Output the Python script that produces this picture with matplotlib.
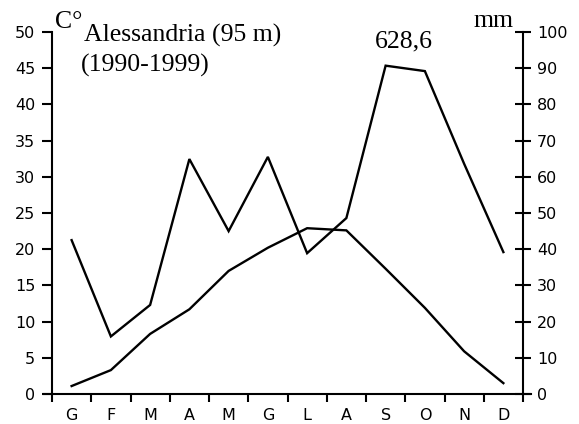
import matplotlib
matplotlib.use("Agg")
import matplotlib.pyplot as plt
from matplotlib.lines import Line2D
import numpy as np

months = ["G", "F", "M", "A", "M", "G", "L", "A", "S", "O", "N", "D"]
temperature = [1.1, 3.3, 8.3, 11.7, 17.0, 20.2, 22.9, 22.6, 17.3, 11.9, 5.9, 1.5]
precipitation = [42.5, 15.9, 24.6, 64.9, 45.0, 65.5, 38.9, 48.6, 90.7, 89.2, 63.6, 39.2]
left_ticks = [0, 5, 10, 15, 20, 25, 30, 35, 40, 45, 50]
right_ticks = [0, 10, 20, 30, 40, 50, 60, 70, 80, 90, 100]
station = "Alessandria (95 m)"
period = "(1990-1999)"
total = "628,6"

W, H = 579, 424
fig = plt.figure(figsize=(W / 100, H / 100), dpi=100)
ax = fig.add_axes([52 / W, 30 / H, 471 / W, 362 / H])
ax2 = ax.twinx()

x = np.arange(len(months)) + 0.5
ax.plot(x, temperature, color="black", lw=1.7, solid_joinstyle="miter")
ax2.plot(x, precipitation, color="black", lw=1.7, solid_joinstyle="miter")

ax.set_xlim(0, 12)
ax.set_ylim(0, 50)
ax2.set_ylim(0, 100)

sans = "DejaVu Sans"
serif = "Liberation Serif"
tfs = 11.5

ax.set_yticks(left_ticks)
ax.set_yticklabels([str(v) for v in left_ticks], fontfamily=sans, fontsize=tfs)
ax2.set_yticks(right_ticks)
ax2.set_yticklabels([str(v) for v in right_ticks], fontfamily=sans, fontsize=tfs)

ax.set_xticks(np.arange(0, 13), minor=True)
ax.set_xticks(x)
ax.set_xticklabels(months, fontfamily=sans, fontsize=tfs)
ax.tick_params(axis="x", which="major", length=0, pad=10)
ax.tick_params(axis="x", which="minor", direction="out", length=6, width=1.5)
ax.tick_params(axis="y", direction="out", length=7, width=1.5, pad=5)
ax2.tick_params(axis="y", direction="inout", length=12, width=1.5, pad=4)

for a in (ax, ax2):
    a.spines["top"].set_visible(False)
    a.spines["bottom"].set_visible(False)
ax2.spines["left"].set_visible(False)
ax.spines["right"].set_visible(False)
ax.spines["left"].set_linewidth(1.5)
ax2.spines["right"].set_linewidth(1.5)

ax.add_line(Line2D([-0.018, 1.016], [0, 0], transform=ax.transAxes,
                   color="black", lw=1.5, clip_on=False))

sfs = 18.5
fig.text(55 / W, 1 - 28 / H, "C°", fontfamily=serif, fontsize=sfs, va="baseline", ha="left")
fig.text(84 / W, 1 - 42 / H, station, fontfamily=serif, fontsize=sfs, va="baseline", ha="left")
fig.text(81 / W, 1 - 72 / H, period, fontfamily=serif, fontsize=sfs, va="baseline", ha="left")
fig.text(404 / W, 1 - 47 / H, total, fontfamily=serif, fontsize=sfs, va="baseline", ha="center")
fig.text(514 / W, 1 - 27 / H, "mm", fontfamily=serif, fontsize=sfs, va="baseline", ha="right")

fig.savefig("out.png", dpi=100)
